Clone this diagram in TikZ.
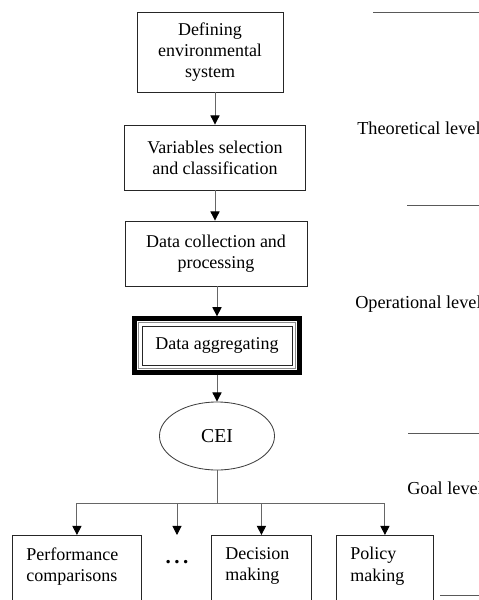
\documentclass[tikz,border=0pt]{standalone}
\usepackage{fontspec}
\setmainfont{Liberation Serif}
\usetikzlibrary{arrows.meta,shapes.geometric,fit}

\begin{document}
\begin{tikzpicture}[
    x=0.025cm, y=-0.025cm,
    box_style/.style={draw=black!85, line width=0.6pt, align=center, inner sep=0pt,
        font=\fontsize{12.8}{15}\selectfont},
    goal_style/.style={box_style, align=left, anchor=north west,
        inner xsep=0.35cm, inner ysep=0.3cm, text depth=2cm},
    arrow_style/.style={draw=black!60, line width=0.7pt,
        -{Triangle[width=6.5pt,length=6.5pt,color=black]}},
    rule_style/.style={draw=black!65, line width=0.7pt},
    level_style/.style={anchor=west, inner sep=0pt, font=\fontsize{13}{15}\selectfont}
]

    \useasboundingbox (0,0) rectangle (479,600);
    \clip (0,0) rectangle (479,600);

    % --- main chain ---
    \node[box_style, minimum width=3.65cm, minimum height=2cm] (def) at (210,52) {Defining\\environmental\\system};
    \node[box_style, minimum width=4.525cm, minimum height=1.625cm] (var) at (215,157.5) {Variables selection\\and classification};
    \node[box_style, minimum width=4.55cm, minimum height=1.625cm] (coll) at (216,253.5) {Data collection and\\processing};

    % aggregating box with triple border
    \node[box_style, minimum width=3.75cm, minimum height=0.975cm] (agg) at (217,345.5) {Data aggregating};
    \node[fit=(agg), inner sep=0.08cm, draw=black!45, line width=0.8pt] (agg_mid) {};
    \node[fit=(agg), inner sep=0.175cm, draw=black, line width=1.1mm] (agg_out) {};

    \node[ellipse, draw=black!75, line width=0.6pt, minimum width=2.875cm, minimum height=1.7cm,
        inner sep=0pt, font=\fontsize{14}{16}\selectfont] (cei) at (217,436) {CEI};

    \draw[arrow_style] (var.north |- def.south) -- (var.north);
    \draw[arrow_style] (var.south) -- (var.south |- coll.north);
    \draw[arrow_style] (coll.south -| agg_out.north) -- (agg_out.north);
    \draw[arrow_style] (agg_out.south) -- (cei.north);

    % --- goal level ---
    \node[goal_style, text width=2.525cm] (perf) at (12,535) {Performance\\comparisons};
    \node[goal_style, text width=1.8cm] (dec) at (211,535) {Decision\\making};
    \node[goal_style, text width=1.725cm] (pol) at (336,535) {Policy\\making};
    \node[inner sep=0pt, font=\fontsize{15}{16}\bfseries] (dots) at (177,562) {.\,.\,.};

    \path (cei.south) ++(0,33) coordinate (bus);
    \draw[draw=black!60, line width=0.7pt] (cei.south) -- (bus);
    \draw[draw=black!60, line width=0.7pt] (perf.north |- bus) -- (pol.north |- bus);
    \foreach \g in {perf,dec,pol}
        \draw[arrow_style] (\g.north |- bus) -- (\g.north);
    \draw[arrow_style] (dots |- bus) -- (dots |- perf.north);

    % --- level rules and labels ---
    \draw[rule_style] (373,12) -- (479,12);
    \draw[rule_style] (407,205) -- (479,205);
    \draw[rule_style] (408,433) -- (479,433);
    \draw[rule_style] (440,595) -- (479,595);

    \node[level_style] (theo) at (357,128) {Theoretical level};
    \node[level_style] (oper) at (355,304) {Operational level};
    \node[level_style] (goal) at (407,488) {Goal level};

\end{tikzpicture}
\end{document}
